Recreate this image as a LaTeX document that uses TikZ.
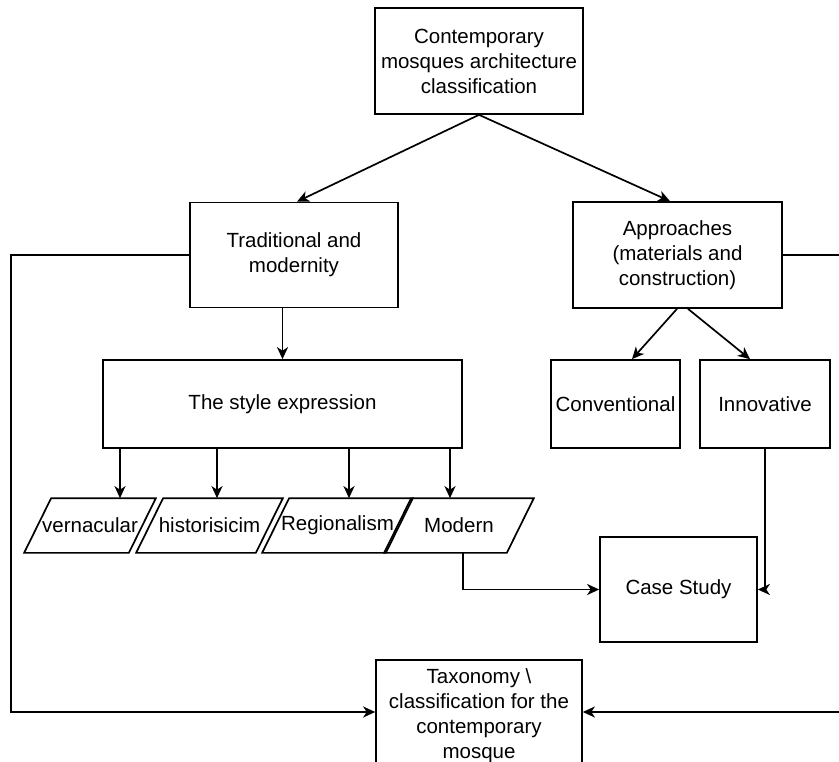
\documentclass[tikz,border=0pt]{standalone}
\usepackage{fontspec}
\setmainfont{Liberation Sans}
\usetikzlibrary{arrows.meta}

\begin{document}
\begin{tikzpicture}[x=1pt,y=-1pt,line width=1.7pt,
    >={Stealth[length=12pt,width=11pt,inset=3.5pt]},
    box/.style={draw,black,align=center,inner sep=0pt,font=\fontsize{20.5}{25}\selectfont},
    slantbox/.style={box,draw=none,minimum height=53pt}]
    \useasboundingbox (0,0) rectangle (839,762);
    \clip (0,0) rectangle (839,762);
    %\draw[help lines,line width=0.1pt,blue] (0,0) grid (839,762);
    \node[box,minimum width=208pt,minimum height=106pt] (top) at (479,61) {Contemporary\\mosques architecture\\classification};
    \node[box,minimum width=208pt,minimum height=105pt] (trad) at (294,255) {Traditional and\\modernity};
    \node[box,minimum width=209pt,minimum height=106pt] (appr) at (677.5,255) {Approaches\\(materials and\\construction)};
    \node[box,minimum width=359pt,minimum height=88pt] (style) at (282.5,404) {The style expression};
    \node[box,minimum width=129pt,minimum height=88pt] (conv) at (615.5,404) {Conventional};
    \node[box,minimum width=130pt,minimum height=88pt] (inno) at (765,404) {Innovative};
    \node[slantbox,minimum width=103pt] (vern) at (90,525.5) {vernacular};
    \node[slantbox,minimum width=118pt] (hist) at (209.5,525.5) {historisicim};
    \node[slantbox,minimum width=122pt] (reg) at (337.5,525.5) {Regionalism};
    \node[slantbox,minimum width=121pt] (mod) at (459,525.5) {Modern};
    \node[box,minimum width=157pt,minimum height=105pt] (case) at (678.5,589.5) {Case Study};
    \node[box,minimum width=206pt,minimum height=112pt] (tax) at (479,716) {Taxonomy \textbackslash\\classification for the\\contemporary\\mosque};
	% slanted outlines
	\foreach \n in {vern,hist,reg,mod}
	    \draw ([xshift=13.5pt]\n.north west) -- ([xshift=13.5pt]\n.north east)
	        -- ([xshift=-13.5pt]\n.south east) -- ([xshift=-13.5pt]\n.south west) -- cycle;
	\draw[->] (top.south) -- ([xshift=3pt]trad.north);
	\draw[->] (top.south) -- ([xshift=-7.5pt]appr.north);
	\draw[->] (trad.south -| style.north) -- (style.north);
	\foreach \n/\d in {vern/30,hist/7.5,reg/11.5,mod/-9}{
	    \coordinate (\n-t) at ([xshift=\d pt]\n.north);
	    \draw[->] (style.south -| \n-t) -- (\n-t);
	}
	\draw[->] ([xshift=-0.5pt]appr.south) -- ([xshift=16.5pt]conv.north);
	\draw[->] ([xshift=10.5pt]appr.south) -- ([xshift=-15pt]inno.north);
	\draw[->] ([xshift=4pt]mod.south) |- (case.west);
	\draw[->] (inno.south) |- (case.east);
	\draw[->] (trad.west) -- ++(-178,0) |- ([yshift=4pt]tax.west);
	\draw[->] (appr.east) -- ++(63,0) |- ([yshift=4pt]tax.east);
\end{tikzpicture}
\end{document}
